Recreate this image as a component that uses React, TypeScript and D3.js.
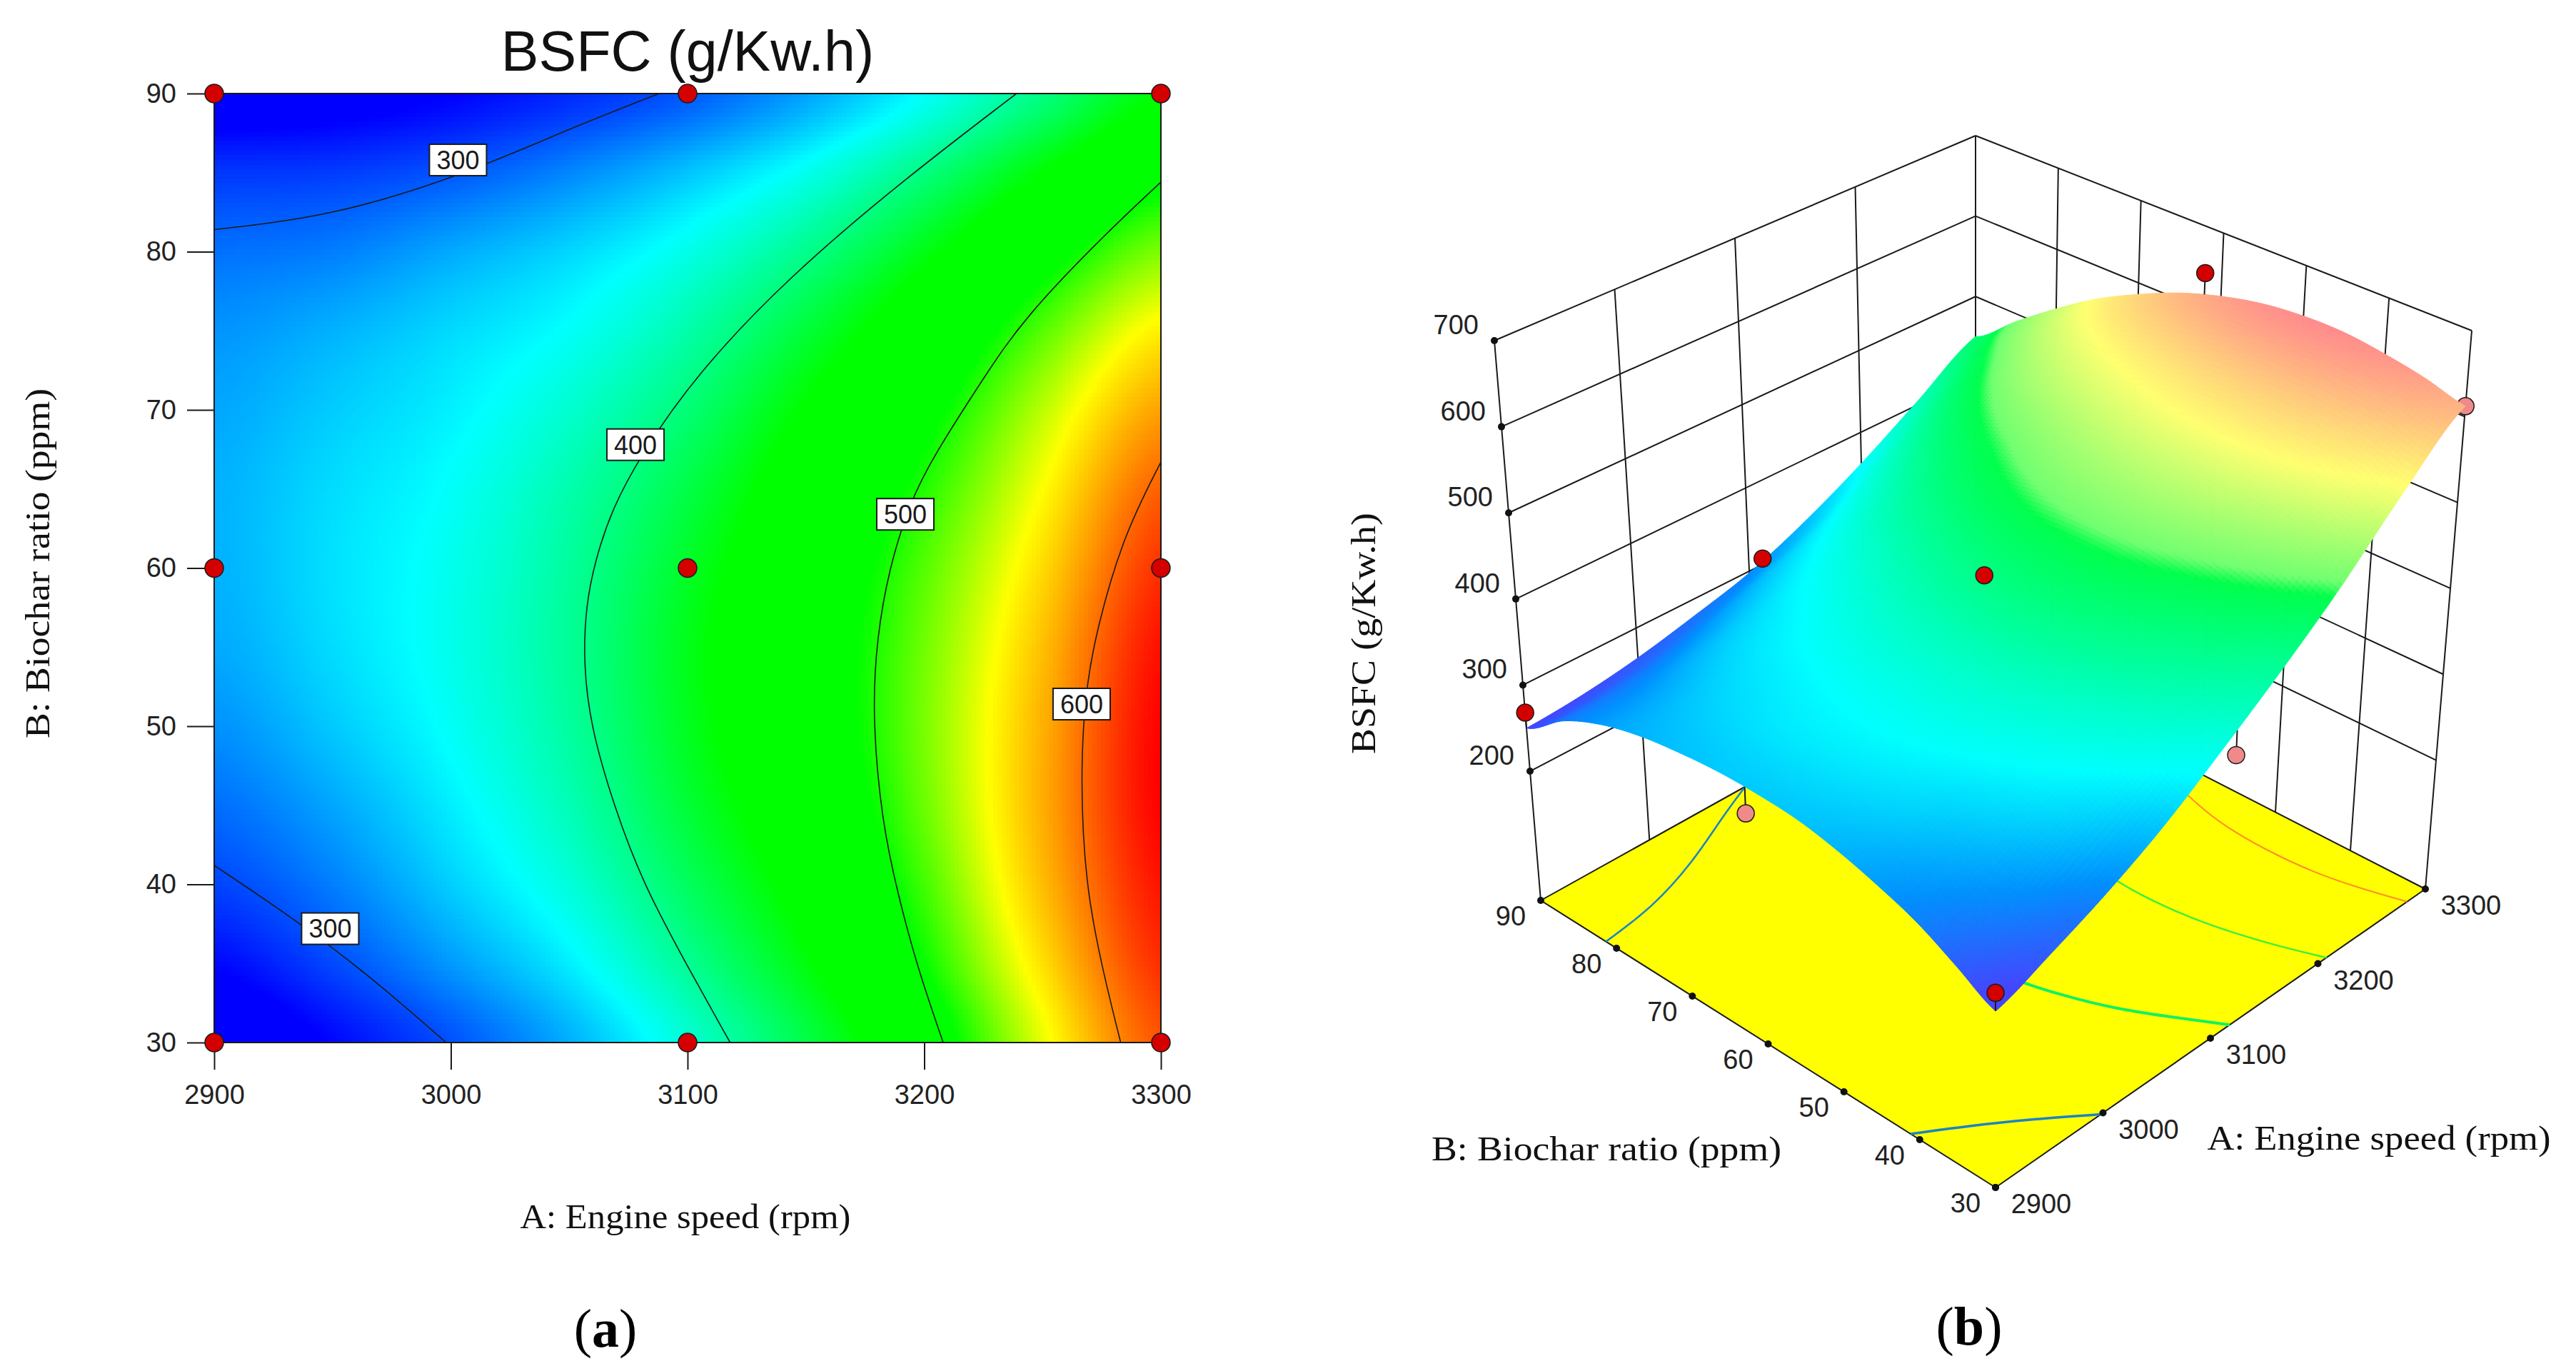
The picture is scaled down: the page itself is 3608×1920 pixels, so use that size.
import React, { useEffect, useRef } from 'react';
import * as d3 from 'd3';

const speedTicks = [2900, 3000, 3100, 3200, 3300];
const ratioTicks = [30, 40, 50, 60, 70, 80, 90];
const bsfcTicks = [200, 300, 400, 500, 600, 700];
const floorBsfc = 50;

// BSFC, columns are speedColumns, rows are ratioRows
const speedColumns = [2900, 2950, 3000, 3050, 3100, 3150, 3200, 3250, 3300];
const ratioRows = [90, 85, 80, 75, 70, 65, 60, 55, 50, 45, 40, 35, 30];
const bsfcGrid = [
  [250, 255, 265, 280, 298, 326, 362, 405, 450],
  [285, 287, 297, 315, 338, 366, 405, 450, 490],
  [307, 312, 328, 345, 368, 401, 443, 488, 527],
  [320, 331, 346, 362, 390, 430, 472, 518, 560],
  [327, 341, 355, 377, 409, 452, 492, 540, 586],
  [331, 347, 362, 389, 425, 468, 507, 555, 608],
  [331, 349, 366, 395, 436, 478, 518, 567, 624],
  [328, 347, 367, 397, 441, 482, 524, 576, 635],
  [319, 340, 363, 394, 439, 481, 526, 581, 640],
  [306, 327, 354, 386, 431, 474, 523, 582, 640],
  [290, 312, 342, 373, 417, 462, 514, 577, 634],
  [267, 292, 322, 354, 398, 446, 501, 565, 625],
  [243, 267, 295, 330, 375, 425, 482, 550, 612],
];

// contour lines as [speed, ratio]
const contour300Top = [[2900, 81.4], [2948, 82.2], [3003, 84.7], [3052, 87.9], [3088, 90]];
const contour300Bottom = [[2900, 41.2], [2934, 37.8], [2965, 34.3], [2998, 30]];
const contour400 = [[3239, 90], [3190, 84.4], [3142, 78.3], [3104, 72.3], [3080, 67.1], [3068, 63.7], [3061, 60.5], [3057, 57.6], [3056, 54], [3059, 50], [3069, 44.9], [3081, 40.1], [3100, 34.8], [3118, 30]];
const contour500 = [[3300, 84.4], [3277, 81.2], [3242, 75.8], [3225, 72], [3204, 67.1], [3194, 64.2], [3185, 59.9], [3180, 55.6], [3178, 50.8], [3182, 44], [3189, 39.3], [3197, 34.8], [3208, 30]];
const contour600 = [[3300, 66.7], [3284, 62], [3273, 56.2], [3268, 52.2], [3266, 46.8], [3268, 40.1], [3275, 34.8], [3283, 30]];

const contourLabels = [
  { text: '300', speed: 3003, ratio: 85.8 },
  { text: '400', speed: 3078, ratio: 67.8 },
  { text: '500', speed: 3192, ratio: 63.4 },
  { text: '600', speed: 3266.5, ratio: 51.4 },
  { text: '300', speed: 2949, ratio: 37.2 },
];

const designSpeeds = [2900, 3100, 3300];
const designRatios = [30, 60, 90];

// design points in the 3D view, below = seen under the surface
const points3d = [
  { speed: 3300, ratio: 90, bsfc: 435, below: true, back: true },
  { speed: 3300, ratio: 30, bsfc: 612, below: true },
  { speed: 3113, ratio: 30, bsfc: 359, below: true },
  { speed: 2900, ratio: 61.7, bsfc: 301, below: true },
  { speed: 2900, ratio: 90, bsfc: 268, below: false },
  { speed: 3112, ratio: 90, bsfc: 307, below: false },
  { speed: 3300, ratio: 62, bsfc: 644, below: false },
  { speed: 3100, ratio: 60, bsfc: 438, below: false },
  { speed: 2900, ratio: 30, bsfc: 263, below: false },
];

const floorContours = [
  { line: contour300Top, color: '#1c83c4', width: 2.5 },
  { line: contour300Bottom, color: '#1c83c4', width: 3.5 },
  { line: contour400, color: '#14f060', width: 4 },
  { line: contour500, color: '#3cf03c', width: 2.5 },
  { line: contour600, color: '#ff8c28', width: 2 },
];

const colorMap = d3.scaleLinear<string>()
  .domain([265, 360, 450, 500, 555, 640])
  .range(['#0000ff', '#00ffff', '#00ff00', '#00ff00', '#ffff00', '#ff0000'])
  .clamp(true);

const surfaceColor = d3.scaleLinear<string>()
  .domain([250, 300, 360, 440, 474, 484, 555, 640])
  .range(['#4444ff', '#0090ff', '#00ffff', '#00ff80', '#00ff4c', '#70ff70', '#ffff70', '#ff8c8c'])
  .clamp(true);

const catmull = (p0, p1, p2, p3, t) =>
  0.5 * (2 * p1 + (p2 - p0) * t + (2 * p0 - 5 * p1 + 4 * p2 - p3) * t * t + (3 * p1 - p0 - 3 * p2 + p3) * t * t * t);

// smooth reading of the grid between its read values
const bsfcAt = (speed, ratio) => {
  const fx = (speed - speedColumns[0]) / (speedColumns[1] - speedColumns[0]);
  const fy = (ratioRows[0] - ratio) / (ratioRows[0] - ratioRows[1]);
  const ix = Math.min(Math.floor(fx), speedColumns.length - 2);
  const iy = Math.min(Math.floor(fy), ratioRows.length - 2);
  const col = i => Math.max(0, Math.min(speedColumns.length - 1, i));
  const row = i => Math.max(0, Math.min(ratioRows.length - 1, i));
  const vals = [-1, 0, 1, 2].map(j => {
    const r = bsfcGrid[row(iy + j)];
    return catmull(r[col(ix - 1)], r[col(ix)], r[col(ix + 1)], r[col(ix + 2)], fx - ix);
  });
  return catmull(vals[0], vals[1], vals[2], vals[3], fy - iy);
};

// 3D box corners in page pixels [x, y], named speed/ratio
const floorCorners = { a: [2795, 1663], b: [3397, 1245], c: [2158, 1261], d: [2767, 922] };
const topCorners = { a: [2795, 831], b: [3462, 463], c: [2093, 477], d: [2767, 190] };

const su = d3.scaleLinear().domain([2900, 3300]).range([0, 1]);
const sv = d3.scaleLinear().domain([30, 90]).range([0, 1]);
const sz = d3.scaleLinear().domain([floorBsfc, 700]).range([0, 1]);

const bilinear = (c, u, v, k) =>
  (1 - u) * (1 - v) * c.a[k] + u * (1 - v) * c.b[k] + (1 - u) * v * c.c[k] + u * v * c.d[k];

const project = (speed, ratio, bsfc) => {
  const u = su(speed), v = sv(ratio), t = sz(bsfc);
  return [0, 1].map(k => bilinear(floorCorners, u, v, k) * (1 - t) + bilinear(topCorners, u, v, k) * t);
};

const Chart = () => {
  const ref = useRef(null);

  useEffect(() => {
    const svg = d3.select(ref.current);
    svg.selectAll('*').remove();
    const sans = 'Liberation Sans, Arial, sans-serif';
    const serif = 'Liberation Serif, Times New Roman, serif';
    const ink = '#1a1a1a';

    // ---- contour plot (a)
    const x = d3.scaleLinear().domain([2900, 3300]).range([300, 1626]);
    const y = d3.scaleLinear().domain([30, 90]).range([1460, 131]);

    const nx = 220, ny = 200;
    const cellW = (x.range()[1] - x.range()[0]) / nx;
    const cellH = (y.range()[0] - y.range()[1]) / ny;
    const cells = [];
    for (let j = 0; j < ny; j++) {
      for (let i = 0; i < nx; i++) {
        cells.push({
          speed: x.invert(x.range()[0] + (i + 0.5) * cellW),
          ratio: y.invert(y.range()[1] + (j + 0.5) * cellH),
          i, j,
        });
      }
    }
    svg.append('g').attr('shape-rendering', 'crispEdges')
      .selectAll('rect').data(cells).join('rect')
      .attr('x', d => x.range()[0] + d.i * cellW)
      .attr('y', d => y.range()[1] + d.j * cellH)
      .attr('width', d => (d.i === nx - 1 ? cellW : cellW + 1))
      .attr('height', d => (d.j === ny - 1 ? cellH : cellH + 1))
      .attr('fill', d => colorMap(bsfcAt(d.speed, d.ratio)));

    const line2d = d3.line().x(d => x(d[0])).y(d => y(d[1])).curve(d3.curveBasis);
    svg.append('g').selectAll('path')
      .data([contour300Top, contour300Bottom, contour400, contour500, contour600])
      .join('path')
      .attr('d', d => line2d(d))
      .attr('fill', 'none').attr('stroke', ink).attr('stroke-width', 1.6);

    const labels = svg.append('g').selectAll('g').data(contourLabels).join('g')
      .attr('transform', d => `translate(${x(d.speed)},${y(d.ratio)})`);
    labels.append('rect')
      .attr('x', -40).attr('y', -22).attr('width', 80).attr('height', 44)
      .attr('fill', 'white').attr('stroke', ink).attr('stroke-width', 2);
    labels.append('text').text(d => d.text)
      .attr('text-anchor', 'middle').attr('dy', '0.36em')
      .attr('font-family', sans).attr('font-size', 36).attr('fill', ink);

    svg.append('rect')
      .attr('x', x.range()[0]).attr('y', y.range()[1])
      .attr('width', x.range()[1] - x.range()[0]).attr('height', y.range()[0] - y.range()[1])
      .attr('fill', 'none').attr('stroke', ink).attr('stroke-width', 2);

    const xAxis = svg.append('g').attr('transform', `translate(0,${y.range()[0]})`)
      .call(d3.axisBottom(x).tickValues(speedTicks).tickFormat(d3.format('d')).tickSize(38).tickPadding(21));
    const yAxis = svg.append('g').attr('transform', `translate(${x.range()[0]},0)`)
      .call(d3.axisLeft(y).tickValues(ratioTicks).tickFormat(d3.format('d')).tickSize(38).tickPadding(15));
    [xAxis, yAxis].forEach(g => {
      g.select('.domain').remove();
      g.selectAll('.tick line').attr('stroke', ink).attr('stroke-width', 2);
      g.selectAll('.tick text').attr('font-family', sans).attr('font-size', 38).attr('fill', '#222');
    });

    svg.append('g').selectAll('circle')
      .data(d3.cross(designSpeeds, designRatios)).join('circle')
      .attr('cx', d => x(d[0])).attr('cy', d => y(d[1])).attr('r', 13)
      .attr('fill', '#d40000').attr('stroke', ink).attr('stroke-width', 1.5);

    const addText = (str, tx, ty, size, family, opts: any = {}) => {
      const t = svg.append('text').text(str)
        .attr('x', tx).attr('y', ty)
        .attr('font-size', size).attr('font-family', family)
        .attr('text-anchor', opts.anchor || 'middle').attr('fill', opts.fill || '#111');
      if (opts.length) t.attr('textLength', opts.length).attr('lengthAdjust', 'spacingAndGlyphs');
      if (opts.rotate) t.attr('transform', `rotate(-90,${tx},${ty})`);
      return t;
    };

    addText('BSFC (g/Kw.h)', 963, 99, 79, sans);
    addText('A: Engine speed (rpm)', 960, 1720, 49, serif, { length: 463 });
    addText('B: Biochar ratio (ppm)', 69, 789, 49, serif, { length: 490, rotate: true });

    const caption = (letter, cx, cy) => {
      const t = svg.append('text').attr('x', cx).attr('y', cy)
        .attr('text-anchor', 'middle').attr('font-family', serif).attr('font-size', 76).attr('fill', '#000');
      t.append('tspan').text('(');
      t.append('tspan').text(letter).attr('font-weight', 'bold');
      t.append('tspan').text(')');
    };
    caption('a', 848, 1886);
    caption('b', 2758, 1883);

    // ---- surface plot (b)
    const floorPts = [[2900, 30], [3300, 30], [3300, 90], [2900, 90]].map(d => project(d[0], d[1], floorBsfc));
    svg.append('polygon').attr('points', floorPts.join(' ')).attr('fill', '#ffff00');

    const line3d = d3.line().x(d => d[0]).y(d => d[1]);
    const seg = (a, b) => line3d([a, b]);
    const grid = svg.append('g').attr('stroke', ink).attr('stroke-width', 2).attr('fill', 'none');

    bsfcTicks.forEach(z => {
      grid.append('path').attr('d', seg(project(2900, 90, z), project(3300, 90, z)));
      grid.append('path').attr('d', seg(project(3300, 90, z), project(3300, 30, z)));
    });
    speedTicks.forEach(a => grid.append('path').attr('d', seg(project(a, 90, floorBsfc), project(a, 90, 700))));
    ratioTicks.forEach(b => grid.append('path').attr('d', seg(project(3300, b, floorBsfc), project(3300, b, 700))));
    grid.append('path').attr('d', seg(project(2900, 90, floorBsfc), project(3300, 90, floorBsfc)));
    grid.append('path').attr('d', seg(project(3300, 30, floorBsfc), project(3300, 90, floorBsfc)));
    grid.append('path').attr('d', seg(project(2900, 30, floorBsfc), project(3300, 30, floorBsfc)));
    grid.append('path').attr('d', seg(project(2900, 30, floorBsfc), project(2900, 90, floorBsfc)));

    const lineFloor = d3.line().curve(d3.curveBasis);
    svg.append('g').selectAll('path').data(floorContours).join('path')
      .attr('d', d => lineFloor(d.line.map(p => project(p[0], p[1], floorBsfc))))
      .attr('fill', 'none').attr('stroke', d => d.color).attr('stroke-width', d => d.width);

    const drawPoint = (g, d) => {
      const p = project(d.speed, d.ratio, d.bsfc);
      const q = project(d.speed, d.ratio, bsfcAt(d.speed, d.ratio));
      g.append('path').attr('d', seg(p, q)).attr('stroke', ink).attr('stroke-width', 2);
      g.append('circle').attr('cx', p[0]).attr('cy', p[1]).attr('r', 12)
        .attr('fill', d.below && !d.back ? '#f08a8a' : '#d40000')
        .attr('stroke', ink).attr('stroke-width', 1.5);
    };

    const under = svg.append('g');
    points3d.filter(d => d.below).forEach(d => drawPoint(under, d));

    // quads from the back corner to the front corner so nearer ones paint over
    const nu = 150, nv = 110;
    const speedAt = d3.scaleLinear().domain([0, nu]).range([2900, 3300]);
    const ratioAt = d3.scaleLinear().domain([0, nv]).range([30, 90]);
    const quads = [];
    for (let j = nv - 1; j >= 0; j--) {
      for (let i = nu - 1; i >= 0; i--) quads.push([i, j]);
    }
    quads.sort((m, n) => (n[0] / nu + n[1] / nv) - (m[0] / nu + m[1] / nv));
    const corner = (i, j) => {
      const a = speedAt(i), b = ratioAt(j);
      return project(a, b, bsfcAt(a, b));
    };
    svg.append('g').selectAll('path').data(quads).join('path')
      .attr('d', d => {
        const [i, j] = d;
        return line3d([corner(i, j), corner(i + 1, j), corner(i + 1, j + 1), corner(i, j + 1)]) + 'Z';
      })
      .attr('fill', d => surfaceColor(bsfcAt(speedAt(d[0] + 0.5), ratioAt(d[1] + 0.5))))
      .attr('stroke', d => surfaceColor(bsfcAt(speedAt(d[0] + 0.5), ratioAt(d[1] + 0.5))))
      .attr('stroke-width', 1);

    const over = svg.append('g');
    points3d.filter(d => !d.below).forEach(d => drawPoint(over, d));

    const dots = [
      ...bsfcTicks.map(z => project(2900, 90, z)),
      ...ratioTicks.map(b => project(2900, b, floorBsfc)),
      ...speedTicks.map(a => project(a, 30, floorBsfc)),
    ];
    svg.append('g').selectAll('circle').data(dots).join('circle')
      .attr('cx', d => d[0]).attr('cy', d => d[1]).attr('r', 5).attr('fill', '#111');

    bsfcTicks.forEach(z => {
      const p = project(2900, 90, z);
      addText(String(z), p[0] - 22, p[1] - 9, 38, sans, { anchor: 'end', fill: '#222' });
    });
    ratioTicks.forEach(b => {
      const p = project(2900, b, floorBsfc);
      addText(String(b), p[0] - 42, p[1] + 35, 38, sans, { fill: '#222' });
    });
    speedTicks.forEach(a => {
      const p = project(a, 30, floorBsfc);
      addText(String(a), p[0] + 64, p[1] + 36, 38, sans, { fill: '#222' });
    });

    addText('BSFC (g/Kw.h)', 1926, 887, 49, serif, { length: 338, rotate: true });
    addText('B: Biochar ratio (ppm)', 2250, 1625, 49, serif, { length: 490 });
    addText('A: Engine speed (rpm)', 3332, 1610, 49, serif, { length: 481 });
  }, []);

  return <svg ref={ref} width={3608} height={1920} style={{ position: 'absolute', left: 0, top: 0, background: 'white' }} />;
};

export default function App() {
  return <Chart />;
}
